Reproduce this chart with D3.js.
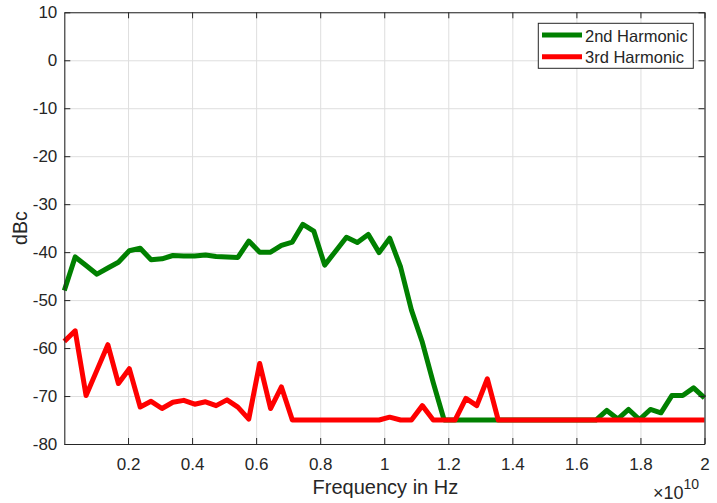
<!DOCTYPE html>
<html>
<head>
<meta charset="utf-8">
<script src="https://cdn.jsdelivr.net/npm/d3@7"></script>
<style>
    body { margin: 0; background: #fff; }
    text { font-family: "Liberation Sans", Arial, sans-serif; fill: #262626; }
</style>
</head>
<body>
<svg id="chart"></svg>
<script>
// frequency points in GHz
const freqGHz = [
    0.01, 0.35, 0.69, 1.03, 1.37, 1.70, 2.04, 2.38, 2.72, 3.06,
    3.40, 3.74, 4.08, 4.42, 4.75, 5.09, 5.43, 5.77, 6.11, 6.45,
    6.79, 7.13, 7.46, 7.80, 8.14, 8.48, 8.82, 9.16, 9.50, 9.84,
    10.17, 10.51, 10.85, 11.19, 11.53, 11.87, 12.21, 12.55, 12.89, 13.22,
    13.56, 13.90, 14.24, 14.58, 14.92, 15.26, 15.60, 15.93, 16.27, 16.61,
    16.95, 17.29, 17.63, 17.97, 18.31, 18.64, 18.98, 19.32, 19.66, 20.00
];

const harm2 = [
    -48.0, -41.0, -42.8, -44.6, -43.3, -42.1, -39.7, -39.2, -41.6, -41.4,
    -40.7, -40.8, -40.8, -40.6, -40.9, -41.0, -41.1, -37.7, -40.0, -40.0,
    -38.6, -37.9, -34.2, -35.6, -42.7, -39.8, -36.9, -38.0, -36.3, -40.1,
    -37.1, -43.1, -52.1, -58.8, -67.2, -75, -75, -75, -75, -75,
    -75, -75, -75, -75, -75, -75, -75, -75, -75, -75,
    -73.0, -74.8, -72.8, -74.9, -72.8, -73.5, -69.9, -69.9, -68.3, -70.4
];

const harm3 = [
    -58.6, -56.4, -69.9, -64.6, -59.3, -67.4, -64.3, -72.3, -71.1, -72.6,
    -71.3, -70.9, -71.7, -71.2, -72.0, -70.8, -72.3, -74.8, -63.2, -72.6,
    -68.1, -75, -75, -75, -75, -75, -75, -75, -75, -75,
    -74.4, -75, -75, -72.0, -75, -75, -75, -70.5, -72.0, -66.4,
    -75, -75, -75, -75, -75, -75, -75, -75, -75, -75,
    -75, -75, -75, -75, -75, -75, -75, -75, -75, -75
];

const seriesNames = ["2nd Harmonic", "3rd Harmonic"];
const seriesColors = ["#008000", "#ff0000"];

const xTicks = [0.2e10, 0.4e10, 0.6e10, 0.8e10, 1e10, 1.2e10, 1.4e10, 1.6e10, 1.8e10, 2e10];
const xTickLabels = ["0.2", "0.4", "0.6", "0.8", "1", "1.2", "1.4", "1.6", "1.8", "2"];
const yTicks = [-80, -70, -60, -50, -40, -30, -20, -10, 0, 10];

const width = 717;
const height = 503;
const margin = {top: 12.3, right: 12.5, bottom: 59, left: 64.3};
const axisColor = "#262626";

const svg = d3.select("#chart")
    .attr("width", width)
    .attr("height", height);

const x = d3.scaleLinear()
    .domain([freqGHz[0] * 1e9, 2e10])
    .range([margin.left, width - margin.right]);

const y = d3.scaleLinear()
    .domain([-80, 10])
    .range([height - margin.bottom, margin.top]);

// grid
const grid = svg.append("g").attr("class", "grid");
grid.append("g")
    .attr("transform", `translate(0,${height - margin.bottom})`)
    .call(d3.axisBottom(x).tickValues(xTicks).tickSize(-(height - margin.top - margin.bottom)).tickFormat(""))
    .call(g => g.select(".domain").remove())
    .call(g => g.selectAll("line").attr("stroke", "#dedede"));
grid.append("g")
    .attr("transform", `translate(${margin.left},0)`)
    .call(d3.axisLeft(y).tickValues(yTicks).tickSize(-(width - margin.left - margin.right)).tickFormat(""))
    .call(g => g.select(".domain").remove())
    .call(g => g.selectAll("line").attr("stroke", "#dedede"));

// lines
const line = d3.line()
    .x((d, i) => x(freqGHz[i] * 1e9))
    .y(d => y(d));

[harm2, harm3].forEach((s, k) => {
    svg.append("path")
        .datum(s)
        .attr("fill", "none")
        .attr("stroke", seriesColors[k])
        .attr("stroke-width", 5)
        .attr("stroke-linejoin", "round")
        .attr("d", line);
});

// axes
const styleAxis = g => {
    g.select(".domain").attr("stroke", axisColor).attr("stroke-width", 1.1);
    g.selectAll(".tick line").attr("stroke", axisColor).attr("stroke-width", 1);
    g.selectAll(".tick text").attr("fill", axisColor).style("font-size", "17px");
};

svg.append("g")
    .attr("transform", `translate(0,${height - margin.bottom})`)
    .call(d3.axisBottom(x).tickValues(xTicks).tickSizeInner(-6).tickSizeOuter(0).tickPadding(14)
        .tickFormat((d, i) => xTickLabels[i]))
    .call(styleAxis);

svg.append("g")
    .attr("transform", `translate(0,${margin.top})`)
    .call(d3.axisTop(x).tickValues(xTicks).tickSizeInner(-6).tickSizeOuter(0).tickFormat(""))
    .call(styleAxis);

svg.append("g")
    .attr("transform", `translate(${margin.left},0)`)
    .call(d3.axisLeft(y).tickValues(yTicks).tickSizeInner(-6).tickSizeOuter(0).tickPadding(7)
        .tickFormat(d => String(d)))
    .call(styleAxis);

svg.append("g")
    .attr("transform", `translate(${width - margin.right},0)`)
    .call(d3.axisRight(y).tickValues(yTicks).tickSizeInner(-6).tickSizeOuter(0).tickFormat(""))
    .call(styleAxis);

// labels
svg.append("text")
    .attr("x", (margin.left + width - margin.right) / 2 + 1)
    .attr("y", 493.5)
    .attr("text-anchor", "middle")
    .style("font-size", "20px")
    .text("Frequency in Hz");

svg.append("text")
    .attr("transform", `translate(26.5,${(margin.top + height - margin.bottom) / 2}) rotate(-90)`)
    .attr("text-anchor", "middle")
    .style("font-size", "19.5px")
    .text("dBc");

const expo = svg.append("text")
    .attr("x", 653)
    .attr("y", 499)
    .style("font-size", "18px");
expo.append("tspan").text("\u00d710");
expo.append("tspan").attr("dy", -10).style("font-size", "14px").text("10");

// legend
const legend = svg.append("g").attr("class", "legend");
legend.append("rect")
    .attr("x", 538.3)
    .attr("y", 23.3)
    .attr("width", 155)
    .attr("height", 45)
    .attr("fill", "#fff")
    .attr("stroke", axisColor)
    .attr("stroke-width", 1);

legend.selectAll("g.item")
    .data(seriesNames)
    .join("g")
    .attr("class", "item")
    .each(function (d, i) {
        const g = d3.select(this);
        const cy = 35 + i * 21.7;
        g.append("line")
            .attr("x1", 542)
            .attr("x2", 582)
            .attr("y1", cy)
            .attr("y2", cy)
            .attr("stroke", seriesColors[i])
            .attr("stroke-width", 5);
        g.append("text")
            .attr("x", 585)
            .attr("y", cy + 6.5)
            .style("font-size", "16.5px")
            .text(d);
    });
</script>
</body>
</html>
